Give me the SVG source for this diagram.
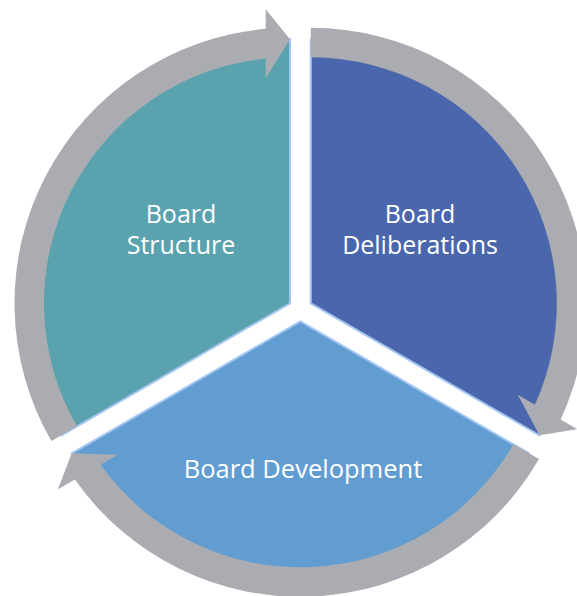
<svg xmlns="http://www.w3.org/2000/svg" width="577" height="596" viewBox="0 0 577 596">
  <style>
    .seg { stroke: #A4C6F2; stroke-width: 2; stroke-linejoin: miter; }
    .arrow { fill: #ABACB1; stroke: none; }
    .lbl { font-family: "Open Sans", "DejaVu Sans", sans-serif; fill: #FFFFFF; text-anchor: middle; }
  </style>
  <rect width="577" height="596" fill="#FFFFFF"/>
  <g id="node-board-structure">
    <path class="seg" fill="#5AA2AE" d="M290,303.3 L290,39.3 A264,264 0 0 0 61.37,435.3 Z"/>
    <text class="lbl" font-size="25" x="181" y="223">Board</text>
    <text class="lbl" font-size="25" x="181" y="254">Structure</text>
  </g>
  <g id="node-board-deliberations">
    <path class="seg" fill="#4A66AC" d="M310.8,303.3 L310.8,39.3 A264,264 0 0 1 539.43,435.3 Z"/>
    <text class="lbl" font-size="25" x="420" y="223">Board</text>
    <text class="lbl" font-size="25" x="420" y="254">Deliberations</text>
  </g>
  <g id="node-board-development">
    <path class="seg" fill="#629DD1" d="M300.4,321.3 L529.03,453.3 A264,264 0 0 1 71.77,453.3 Z"/>
    <text class="lbl" font-size="25.5" x="303" y="477.5">Board Development</text>
  </g>
  <g id="connectors">
    <path class="arrow" d="M51.41,441.05 A275.5,275.5 0 0 1 265.7,28.87 L265.7,9.3 L290,39.3 L265.7,78.3 L265.7,58.5 A246,246 0 0 0 76.96,426.3 Z"/>
    <path class="arrow" d="M310.8,27.8 A275.5,275.5 0 0 1 560.61,419.48 L577.56,429.26 L539.43,435.3 L517.8,394.76 L534.95,404.66 A246,246 0 0 0 310.8,57.3 Z"/>
    <path class="arrow" d="M538.99,459.05 A275.5,275.5 0 0 1 74.89,479.56 L57.94,489.34 L71.77,453.3 L117.7,454.84 L100.55,464.74 A246,246 0 0 0 513.44,444.3 Z"/>
  </g>
</svg>
